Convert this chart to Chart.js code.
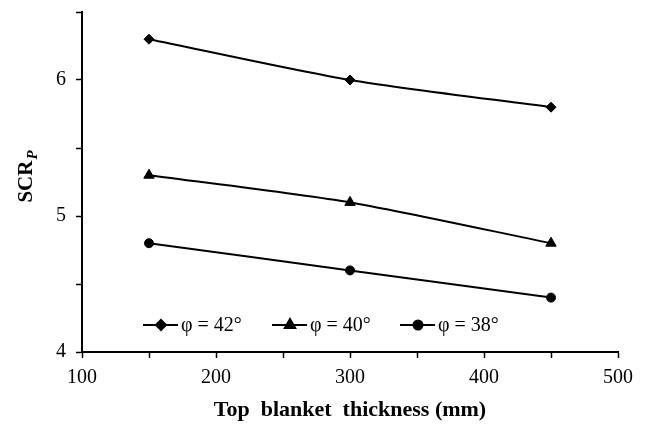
<!DOCTYPE html>
<html lang="en">
<head>
  <meta charset="UTF-8" />
  <title>SCRp vs top blanket thickness</title>
  <script src="https://cdn.jsdelivr.net/npm/chart.js"></script>
  <style>
    html, body {
      margin: 0;
      padding: 0;
      background: #fff;
    }
    #wrap {
      width: 646px;
      height: 428px;
    }
  </style>
</head>
<body>
  <div id="wrap">
    <canvas id="chart" width="646" height="428"></canvas>
  </div>

  <script>
    // data
    const thickness = [150, 300, 450];
    const phi42 = [6.3, 6.0, 5.8];
    const phi40 = [5.3, 5.1, 4.8];
    const phi38 = [4.8, 4.6, 4.4];
    const seriesLabels = ['φ = 42°', 'φ = 40°', 'φ = 38°'];
    const xTicks = [100, 200, 300, 400, 500];
    const yTicks = [4, 5, 6];

    const serif = "'Liberation Serif', 'Times New Roman', serif";

    const toPoints = (ys) => thickness.map((x, i) => ({ x: x, y: ys[i] }));

    // legend drawn inside the plot: short line + marker + text
    const innerLegend = {
      id: 'innerLegend',
      afterDatasetsDraw(chart) {
        const ctx = chart.ctx;
        const area = chart.chartArea;
        const y = area.bottom - 27;
        const starts = [area.left + 61, area.left + 190, area.left + 318];
        ctx.save();
        chart.data.datasets.forEach((ds, i) => {
          const x0 = starts[i];
          ctx.strokeStyle = '#000';
          ctx.lineWidth = 2;
          ctx.beginPath();
          ctx.moveTo(x0, y);
          ctx.lineTo(x0 + 35, y);
          ctx.stroke();
          Chart.helpers.drawPoint(ctx, {
            pointStyle: ds.pointStyle,
            radius: ds.pointRadius,
            borderWidth: 1
          }, x0 + 18, y);
          ctx.fillStyle = '#000';
          ctx.font = '20px ' + serif;
          ctx.textBaseline = 'middle';
          ctx.textAlign = 'left';
          ctx.fillText(ds.label, x0 + 38, y + 1);
        });
        ctx.restore();
      }
    };

    // y title with italic subscript P
    const yTitle = {
      id: 'yTitle',
      afterDraw(chart) {
        const ctx = chart.ctx;
        const area = chart.chartArea;
        ctx.save();
        ctx.translate(24, (area.top + area.bottom) / 2 - 5);
        ctx.rotate(-Math.PI / 2);
        ctx.fillStyle = '#000';
        ctx.textBaseline = 'alphabetic';
        ctx.font = 'bold 21px ' + serif;
        const main = 'SCR';
        const wMain = ctx.measureText(main).width;
        ctx.font = 'bold italic 15px ' + serif;
        const wSub = ctx.measureText('P').width;
        const x0 = -(wMain + wSub) / 2;
        ctx.font = 'bold 21px ' + serif;
        ctx.textAlign = 'left';
        ctx.fillText(main, x0, 8);
        ctx.font = 'bold italic 15px ' + serif;
        ctx.fillText('P', x0 + wMain + 1, 13);
        ctx.restore();
      }
    };

    const lineSet = (label, ys, style, r) => ({
      label: label,
      data: toPoints(ys),
      borderColor: '#000',
      backgroundColor: '#000',
      borderWidth: 2,
      pointStyle: style,
      pointRadius: r,
      pointBorderWidth: 1,
      tension: 0.25,
      fill: false
    });

    new Chart(document.getElementById('chart'), {
      type: 'line',
      data: {
        datasets: [
          lineSet(seriesLabels[0], phi42, 'rectRot', 5),
          lineSet(seriesLabels[1], phi40, 'triangle', 6),
          lineSet(seriesLabels[2], phi38, 'circle', 4.5)
        ]
      },
      options: {
        responsive: false,
        animation: false,
        layout: { padding: { top: 12, right: 28, left: 0, bottom: 0 } },
        plugins: {
          legend: { display: false },
          tooltip: { enabled: false }
        },
        scales: {
          x: {
            type: 'linear',
            min: 100,
            max: 500,
            afterFit(scale) {
              scale.height = 76;
              scale.paddingLeft = 0;
              scale.paddingRight = 0;
            },
            ticks: {
              stepSize: 50,
              autoSkip: false,
              maxRotation: 0,
              color: '#000',
              padding: 8,
              font: { family: serif, size: 20 },
              callback: (v) => xTicks.includes(v) ? String(v) : ''
            },
            grid: {
              drawOnChartArea: false,
              drawTicks: true,
              tickLength: 6,
              tickColor: '#000',
              tickWidth: 1.5
            },
            border: { color: '#000', width: 2 },
            title: {
              display: true,
              text: 'Top  blanket  thickness (mm)',
              color: '#000',
              font: { family: serif, size: 22, weight: 'bold' },
              padding: { top: 12 }
            }
          },
          y: {
            type: 'linear',
            min: 4,
            max: 6.5,
            afterFit(scale) {
              scale.width = 82;
              scale.paddingTop = 0;
              scale.paddingBottom = 0;
            },
            ticks: {
              stepSize: 0.5,
              autoSkip: false,
              color: '#000',
              padding: 10,
              font: { family: serif, size: 20 },
              callback: (v) => yTicks.includes(v) ? String(v) : ''
            },
            grid: {
              drawOnChartArea: false,
              drawTicks: true,
              tickLength: 6,
              tickColor: '#000',
              tickWidth: 1.5
            },
            border: { color: '#000', width: 2 }
          }
        }
      },
      plugins: [innerLegend, yTitle]
    });
  </script>
</body>
</html>
